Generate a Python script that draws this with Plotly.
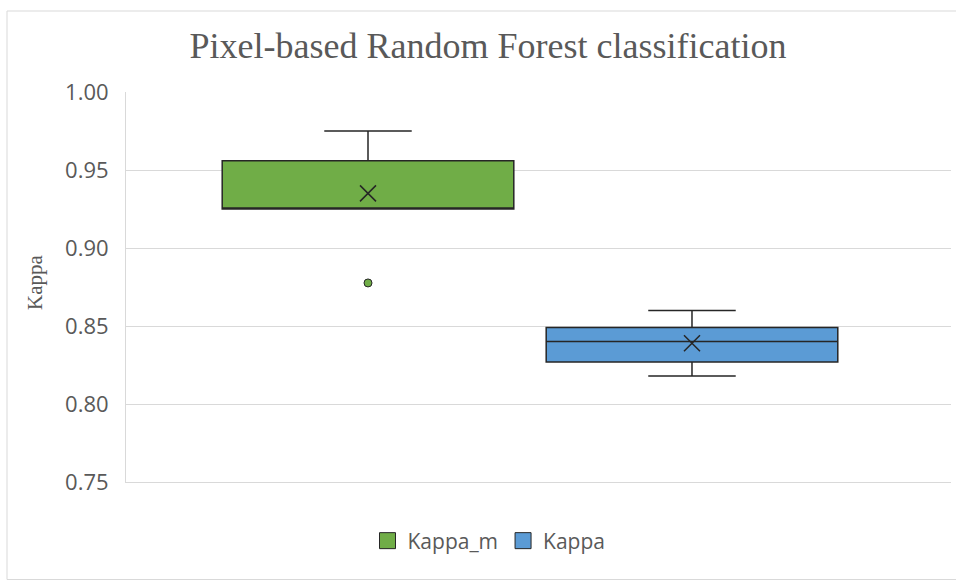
import plotly.graph_objects as go

# ---- data ----
series_names = ["Kappa_m", "Kappa"]
series_pos = [0, 1]
q1_vals = [0.925, 0.827]
median_vals = [0.925, 0.840]
q3_vals = [0.956, 0.849]
lower_whisker = [0.925, 0.818]
upper_whisker = [0.975, 0.860]
mean_vals = [0.935, 0.839]
outlier_x = [0]
outlier_y = [0.8776]
fill_colors = ["#70AD47", "#5B9BD5"]
y_ticks = [0.75, 0.80, 0.85, 0.90, 0.95, 1.00]

EDGE = "#262626"
fig = go.Figure()
for i, name in enumerate(series_names):
    fig.add_trace(go.Box(
        name=name,
        x=[series_pos[i]],
        q1=[q1_vals[i]], median=[median_vals[i]], q3=[q3_vals[i]],
        lowerfence=[lower_whisker[i]], upperfence=[upper_whisker[i]],
        fillcolor=fill_colors[i],
        line=dict(color=EDGE, width=1.5),
        width=0.9, whiskerwidth=0.3,
        boxpoints=False, hoverinfo="skip", showlegend=False,
    ))

# outlier
fig.add_trace(go.Scatter(
    x=outlier_x, y=outlier_y, mode="markers", showlegend=False,
    marker=dict(symbol="circle", size=8, color=fill_colors[0],
                line=dict(color=EDGE, width=1)),
    hoverinfo="skip",
))
# means
fig.add_trace(go.Scatter(
    x=series_pos, y=mean_vals, mode="markers", showlegend=False,
    marker=dict(symbol="x-thin", size=16, color=EDGE,
                line=dict(color=EDGE, width=1.5)),
    hoverinfo="skip",
))
# legend entries (square swatches like the reference)
for i, name in enumerate(series_names):
    fig.add_trace(go.Scatter(
        x=[None], y=[None], mode="markers", name=name, showlegend=True,
        marker=dict(symbol="square", size=16, color=fill_colors[i],
                    line=dict(color=EDGE, width=1)),
    ))

W, H = 956, 581
PL, PR, PT, PB = 126, 951, 92, 482  # plot area in page pixels
fig.update_layout(
    width=W, height=H,
    margin=dict(l=PL, r=W - PR, t=PT, b=H - PB),
    paper_bgcolor="white", plot_bgcolor="white",
    title=dict(text="Pixel-based Random Forest classification",
               x=488 / W, xanchor="center", xref="container",
               y=1 - 45 / H, yanchor="middle", yref="container",
               font=dict(family="Liberation Serif", size=36, color="#595959")),
    showlegend=True,
    legend=dict(orientation="h", x=(489 - PL) / (PR - PL), xanchor="center",
                y=(PB - 541) / (PB - PT), yanchor="middle",
                font=dict(family="Open Sans", size=21, color="#595959"),
                itemsizing="trace",
                bgcolor="rgba(0,0,0,0)"),
    xaxis=dict(range=[-0.7469, 1.7994], showticklabels=False, showgrid=False,
               zeroline=False, showline=True, linecolor="#d9d9d9", linewidth=1),
    yaxis=dict(range=[0.75, 1.0], tickvals=y_ticks, tickformat=".2f",
               showgrid=True, gridcolor="#d9d9d9", gridwidth=1,
               zeroline=False, showline=True, linecolor="#d9d9d9", linewidth=1,
               ticks="", ticklabelstandoff=12,
               tickfont=dict(family="Open Sans", size=22, color="#595959")),
    annotations=[dict(text="Kappa", textangle=-90, xref="paper", yref="paper",
                      x=(35 - PL) / (PR - PL), y=(PB - 283) / (PB - PT),
                      xanchor="center", yanchor="middle", showarrow=False,
                      font=dict(family="Liberation Serif", size=21, color="#595959"))],
    shapes=[dict(type="rect", xref="paper", yref="paper",
                 x0=(7 - PL) / (PR - PL), x1=1.02,
                 y0=(PB - 579.5) / (PB - PT), y1=1 + (PT - 11) / (PB - PT),
                 line=dict(color="#d9d9d9", width=1), fillcolor="rgba(0,0,0,0)", layer="below")],
)

fig.write_html("out.html", config={"displayModeBar": False},
               post_script="document.body.style.margin='0';document.body.style.padding='0';")
